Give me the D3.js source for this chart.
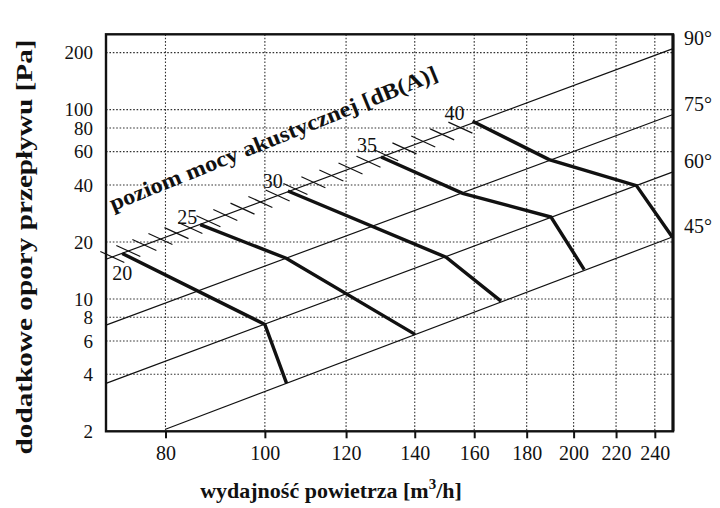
<!DOCTYPE html>
<html><head><meta charset="utf-8">
<script src="https://cdn.jsdelivr.net/npm/d3@7"></script>
<style>body{margin:0;background:#fff} svg{display:block}</style>
</head><body><svg id="chart" width="720" height="508"></svg>
<script>
// Axis ticks
const xTicks = [80, 100, 120, 140, 160, 180, 200, 220, 240];
const yTicks = [2, 4, 6, 8, 10, 20, 40, 60, 80, 100, 200];

// Blade-angle system lines, endpoints as [airflow m3/h, pressure Pa]
const angleLabels = ["90°", "75°", "60°", "45°"];
const angleLines = [
  [[70, 16.2], [250, 210]],
  [[70, 7.28], [250, 94.2]],
  [[70, 3.58], [250, 46.9]],
  [[80, 2.05], [250, 21.3]]
];

// Sound power level curves [dB(A)]
const levelLabels = ["20", "25", "30", "35", "40"];
const levelCurves = [
  [[72.6, 17.4], [100, 7.34], [105, 3.58]],
  [[86.5, 24.7], [104.9, 16.4], [140.1, 6.5]],
  [[105.3, 37.2], [150.2, 16.6], [169.9, 9.74]],
  [[129.8, 56.2], [155.9, 36.1], [190.1, 27.1], [204.8, 14.3]],
  [[159.4, 86.8], [189.3, 54.5], [230.3, 39.7], [249.5, 21.3]]
];

// Scale marks along the 90° line (airflow where each mark crosses it)
const levelMarks = [71.0, 73.6, 76.3, 79.1, 82.0, 84.6, 88.1, 91.5, 95.1, 99.0,
  102.9, 107.1, 111.5, 116.1, 121.2, 126.2, 131.3, 136.8, 142.7, 148.9, 155.1];

const svg = d3.select("#chart");
const L = 106, R = 673, T = 34.3, B = 431.3;
const x = d3.scaleLog().domain([70, 250]).range([L, R]);
const y = d3.scaleLog().domain([2, 250]).range([B, T]);
const serif = "'Liberation Serif', 'Times New Roman', Tinos, serif";

// dotted grid
const grid = svg.append("g").attr("stroke", "#333").attr("stroke-width", 1.1)
  .attr("stroke-dasharray", "1.6,1.8");
grid.selectAll("line.v").data(xTicks).join("line")
  .attr("x1", d => x(d)).attr("x2", d => x(d)).attr("y1", T).attr("y2", B);
grid.selectAll("line.h").data(yTicks.filter(d => d > 2)).join("line")
  .attr("y1", d => y(d)).attr("y2", d => y(d)).attr("x1", L).attr("x2", R);

// bottom axis
const xAxis = d3.axisBottom(x).tickValues(xTicks).tickFormat(d3.format("d"))
  .tickSize(7).tickPadding(8);
const gx = svg.append("g").attr("transform", `translate(0,${B})`).call(xAxis);
gx.select(".domain").remove();
gx.selectAll(".tick line").attr("stroke", "#111").attr("stroke-width", 2);
gx.selectAll("text").attr("font-family", serif).attr("font-size", 20).attr("fill", "#111");

// left axis
const yAxis = d3.axisLeft(y).tickValues(yTicks).tickFormat(d3.format("d"))
  .tickSize(0).tickPadding(13);
const gy = svg.append("g").attr("transform", `translate(${L},0)`).call(yAxis);
gy.select(".domain").remove();
gy.selectAll("text").attr("font-family", serif).attr("font-size", 19).attr("fill", "#111");

// frame
svg.append("rect").attr("x", L).attr("y", T).attr("width", R - L).attr("height", B - T)
  .attr("fill", "none").attr("stroke", "#111").attr("stroke-width", 2.4);
svg.append("line").attr("x1", R).attr("x2", R).attr("y1", T).attr("y2", B)
  .attr("stroke", "#111").attr("stroke-width", 3);

// blade-angle lines
const line = d3.line().x(d => x(d[0])).y(d => y(d[1]));
svg.append("g").selectAll("path").data(angleLines).join("path")
  .attr("d", line).attr("fill", "none").attr("stroke", "#111").attr("stroke-width", 1.2);

svg.append("g").selectAll("text").data(angleLines).join("text")
  .attr("x", 684).attr("y", d => y(d[1][1]) - 4)
  .attr("font-family", serif).attr("font-size", 20).attr("fill", "#111")
  .text((d, i) => angleLabels[i]);

// scale marks on the 90° line
const s0 = angleLines[0];
const onScale = v => {
  const px = x(v);
  const t = (px - x(s0[0][0])) / (x(s0[1][0]) - x(s0[0][0]));
  return [px, y(s0[0][1]) + t * (y(s0[1][1]) - y(s0[0][1]))];
};
svg.append("g").selectAll("line").data(levelMarks).join("line")
  .each(function (v) {
    const [px, py] = onScale(v);
    d3.select(this).attr("x1", px - 12).attr("y1", py - 5.5)
      .attr("x2", px + 12).attr("y2", py + 5.5);
  })
  .attr("stroke", "#111").attr("stroke-width", 1.2);

// sound level curves
svg.append("g").selectAll("path").data(levelCurves).join("path")
  .attr("d", line).attr("fill", "none").attr("stroke", "#111")
  .attr("stroke-width", 3.4).attr("stroke-linejoin", "miter");

const labelOffsets = [[0, 27], [-13, -1], [-15, -3], [-14, -5], [-18, -1]];
svg.append("g").selectAll("text").data(levelCurves).join("text")
  .attr("x", (d, i) => x(d[0][0]) + labelOffsets[i][0])
  .attr("y", (d, i) => y(d[0][1]) + labelOffsets[i][1])
  .attr("text-anchor", "middle")
  .attr("font-family", serif).attr("font-size", 20).attr("fill", "#111")
  .text((d, i) => levelLabels[i]);

// rotated scale caption
svg.append("text")
  .attr("transform", "translate(113,211) rotate(-22)")
  .attr("font-family", serif).attr("font-weight", "bold").attr("font-size", 22)
  .attr("fill", "#111").attr("textLength", 352).attr("lengthAdjust", "spacingAndGlyphs")
  .text("poziom mocy akustycznej [dB(A)]");

// axis titles
const xt = svg.append("text").attr("x", 331).attr("y", 498).attr("text-anchor", "middle")
  .attr("font-family", serif).attr("font-weight", "bold").attr("font-size", 22)
  .attr("fill", "#111");
xt.append("tspan").text("wydajność powietrza [m");
xt.append("tspan").attr("dy", -9).attr("font-size", 15).text("3");
xt.append("tspan").attr("dy", 9).text("/h]");

svg.append("text").attr("transform", "translate(32,247) rotate(-90)")
  .attr("text-anchor", "middle")
  .attr("font-family", serif).attr("font-weight", "bold").attr("font-size", 24)
  .attr("fill", "#111").attr("textLength", 415).attr("lengthAdjust", "spacingAndGlyphs")
  .text("dodatkowe opory przepływu [Pa]");
</script></body></html>
